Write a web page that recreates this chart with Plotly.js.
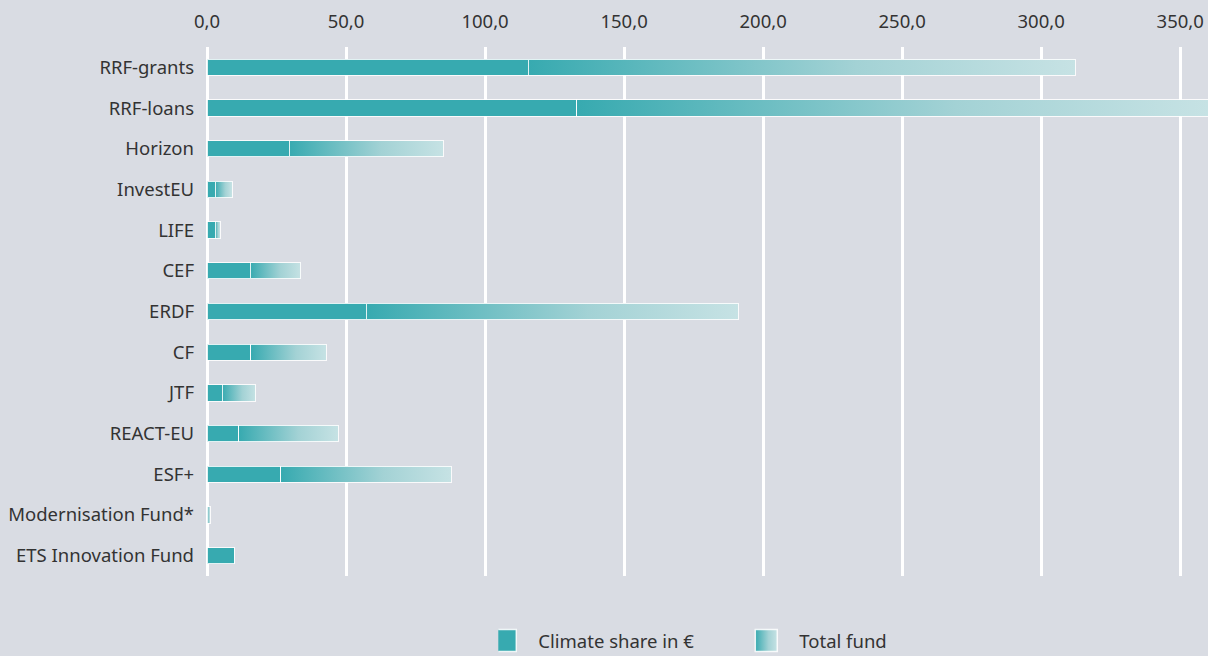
<!DOCTYPE html>
<html>
<head>
<meta charset="utf-8">
<script src="https://cdn.plot.ly/plotly-3.0.1.min.js"></script>
<style>
html,body{margin:0;padding:0;background:#d9dce3;}
#chart{width:1208px;height:656px;}
</style>
</head>
<body>
<div id="chart"></div>
<script>
const categories = ["RRF-grants","RRF-loans","Horizon","InvestEU","LIFE","CEF","ERDF","CF","JTF","REACT-EU","ESF+","Modernisation Fund*","ETS Innovation Fund"];
const climateShare = [115.5, 133.0, 29.5, 2.9, 2.9, 15.5, 57.2, 15.8, 5.4, 11.5, 26.6, 0, 10.0];
const totalFund = [312.2, 360.0, 84.9, 9.0, 4.7, 33.8, 191.0, 42.8, 17.6, 47.2, 87.8, 1.1, 10.0];
const tickValues = [0, 50, 100, 150, 200, 250, 300, 350];

const teal = "#37aab0";
const light = "#c6e2e4";
const remainder = totalFund.map((t, i) => Math.max(t - climateShare[i], 0));

const fontFam = "'Noto Sans', 'Open Sans', sans-serif";
const fs = 18.5;

const data = [
  {
    type: "bar", orientation: "h", name: "Climate share in €",
    y: categories, x: climateShare,
    marker: {color: teal, line: {color: "rgba(255,255,255,0.85)", width: 1}},
    hoverinfo: "x+y"
  },
  {
    type: "bar", orientation: "h", name: "Total fund",
    y: categories, x: remainder,
    customdata: totalFund,
    marker: {color: "#8cc8cb", line: {color: "rgba(255,255,255,0.85)", width: 1}},
    hovertemplate: "%{y}: %{customdata}<extra></extra>"
  }
];

const layout = {
  width: 1208, height: 656,
  paper_bgcolor: "#d9dce3", plot_bgcolor: "#d9dce3",
  font: {family: fontFam, size: fs, color: "#333333"},
  barmode: "stack", bargap: 0.6,
  separators: ",.",
  margin: {l: 207, r: 0, t: 47, b: 80, autoexpand: false},
  xaxis: {
    side: "top", range: [0, 360], tickvals: tickValues, tickformat: ".1f",
    showgrid: true, gridcolor: "#ffffff", gridwidth: 2.5,
    zeroline: true, zerolinecolor: "#ffffff", zerolinewidth: 2.5,
    showline: false, ticks: "", ticklabelstandoff: 14,
    tickfont: {size: fs, color: "#333333"}, fixedrange: true
  },
  yaxis: {
    autorange: "reversed", type: "category",
    showgrid: false, zeroline: false, showline: false, ticks: "",
    ticklabelstandoff: 12,
    tickfont: {size: fs, color: "#333333"}, fixedrange: true
  },
  showlegend: true,
  legend: {
    orientation: "h", x: 0.291, xanchor: "left", y: -0.123, yanchor: "middle",
    bgcolor: "rgba(0,0,0,0)", font: {size: fs, color: "#333333"},
    traceorder: "normal", entrywidth: 216, entrywidthmode: "pixels"
  }
};

Plotly.newPlot("chart", data, layout, {displayModeBar: false}).then(gd => {
  const ns = "http://www.w3.org/2000/svg";
  const svg = gd.querySelector(".main-svg");
  let defs = svg.querySelector("defs");
  if (!defs) { defs = document.createElementNS(ns, "defs"); svg.insertBefore(defs, svg.firstChild); }
  const grad = document.createElementNS(ns, "linearGradient");
  grad.setAttribute("id", "totalGrad");
  grad.setAttribute("x1", "0"); grad.setAttribute("y1", "0");
  grad.setAttribute("x2", "1"); grad.setAttribute("y2", "0");
  [[0, teal], [0.6, "#a3d2d5"], [1, light]].forEach(([o, c]) => {
    const s = document.createElementNS(ns, "stop");
    s.setAttribute("offset", o); s.setAttribute("stop-color", c);
    grad.appendChild(s);
  });
  defs.appendChild(grad);
  const traces = gd.querySelectorAll(".barlayer .trace");
  if (traces[1]) traces[1].querySelectorAll("path").forEach(p => { p.style.fill = "url(#totalGrad)"; });
  const legTraces = gd.querySelectorAll(".legend .traces");
  legTraces.forEach((lt, i) => {
    lt.querySelectorAll(".legendpoints path").forEach(p => {
      p.setAttribute("d", "M-2,11H-24V-11H-2Z");
      p.style.stroke = "#ffffff"; p.style.strokeWidth = "1.5px";
      if (i === 1) p.style.fill = "url(#totalGrad)";
    });
  });
});
</script>
</body>
</html>
